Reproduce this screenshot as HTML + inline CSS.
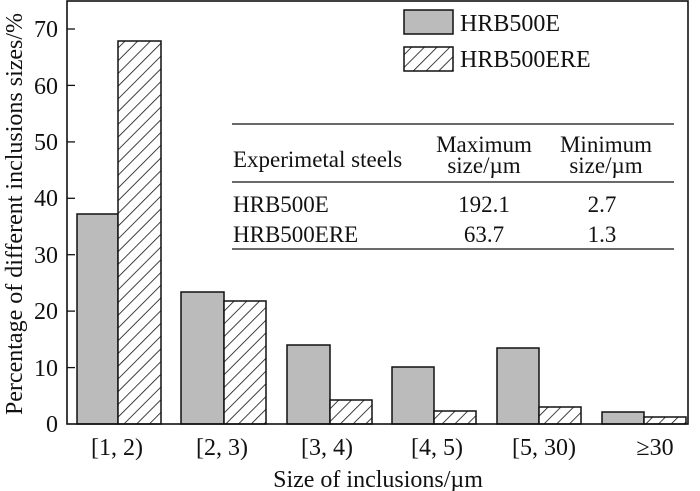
<!DOCTYPE html>
<html><head><meta charset="utf-8"><style>body{margin:0;background:#fff}svg{display:block}text{font-family:"Liberation Serif",serif;fill:#111}</style></head><body>
<svg width="700" height="491" viewBox="0 0 700 491">
<defs><pattern id="h" patternUnits="userSpaceOnUse" width="9" height="9" patternTransform="rotate(45)"><rect width="9" height="9" fill="#fff"/><line x1="0" y1="0" x2="0" y2="9" stroke="#111" stroke-width="1.6"/></pattern></defs>
<g stroke="#111" stroke-width="1.5">
<rect x="77" y="214" width="41" height="210" fill="#bbb"/>
<rect x="118" y="41" width="43" height="383" fill="url(#h)"/>
<rect x="181" y="292" width="43" height="132" fill="#bbb"/>
<rect x="224" y="301" width="42" height="123" fill="url(#h)"/>
<rect x="287" y="345" width="43" height="79" fill="#bbb"/>
<rect x="330" y="400" width="42" height="24" fill="url(#h)"/>
<rect x="392" y="367" width="42" height="57" fill="#bbb"/>
<rect x="434" y="411" width="42" height="13" fill="url(#h)"/>
<rect x="497" y="348" width="42" height="76" fill="#bbb"/>
<rect x="539" y="407" width="42" height="17" fill="url(#h)"/>
<rect x="602" y="412" width="42" height="12" fill="#bbb"/>
<rect x="644" y="417" width="42" height="7" fill="url(#h)"/>
<rect x="404" y="10" width="49" height="24" fill="#bbb"/>
<rect x="404" y="47" width="49" height="24" fill="url(#h)"/>
</g>
<rect x="67" y="1" width="621" height="423" fill="none" stroke="#111" stroke-width="1.6"/>
<g stroke="#111" stroke-width="1.3">
<line x1="67" y1="367.6" x2="75" y2="367.6"/><line x1="67" y1="311.1" x2="75" y2="311.1"/><line x1="67" y1="254.7" x2="75" y2="254.7"/><line x1="67" y1="198.3" x2="75" y2="198.3"/><line x1="67" y1="141.9" x2="75" y2="141.9"/><line x1="67" y1="85.4" x2="75" y2="85.4"/><line x1="67" y1="29" x2="75" y2="29"/>
<line x1="232" y1="124" x2="674" y2="124"/><line x1="232" y1="182" x2="674" y2="182"/><line x1="232" y1="249" x2="674" y2="249"/>
</g>
<g font-size="24" text-anchor="end">
<text x="58" y="432">0</text><text x="58" y="376">10</text><text x="58" y="319">20</text><text x="58" y="263">30</text><text x="58" y="206">40</text><text x="58" y="150">50</text><text x="58" y="94">60</text><text x="58" y="37">70</text>
</g>
<g font-size="24" text-anchor="middle">
<text x="117" y="455">[1, 2)</text><text x="222" y="455">[2, 3)</text><text x="327" y="455">[3, 4)</text><text x="437" y="455">[4, 5)</text><text x="544" y="455">[5, 30)</text><text x="655" y="455">≥30</text>
<text x="378" y="487">Size of inclusions/µm</text>
<text transform="translate(22,214) rotate(-90)">Percentage of different inclusions sizes/%</text>
</g>
<g font-size="24"><text x="460" y="31">HRB500E</text><text x="460" y="67">HRB500ERE</text></g>
<g font-size="23">
<text x="233" y="167">Experimetal steels</text><text x="233" y="212">HRB500E</text><text x="233" y="242">HRB500ERE</text>
<g text-anchor="middle">
<text x="484" y="152">Maximum</text><text x="484" y="173">size/µm</text><text x="606" y="152">Minimum</text><text x="606" y="173">size/µm</text>
<text x="484" y="212">192.1</text><text x="484" y="242">63.7</text><text x="602" y="212">2.7</text><text x="602" y="242">1.3</text>
</g></g>
</svg>
</body></html>
